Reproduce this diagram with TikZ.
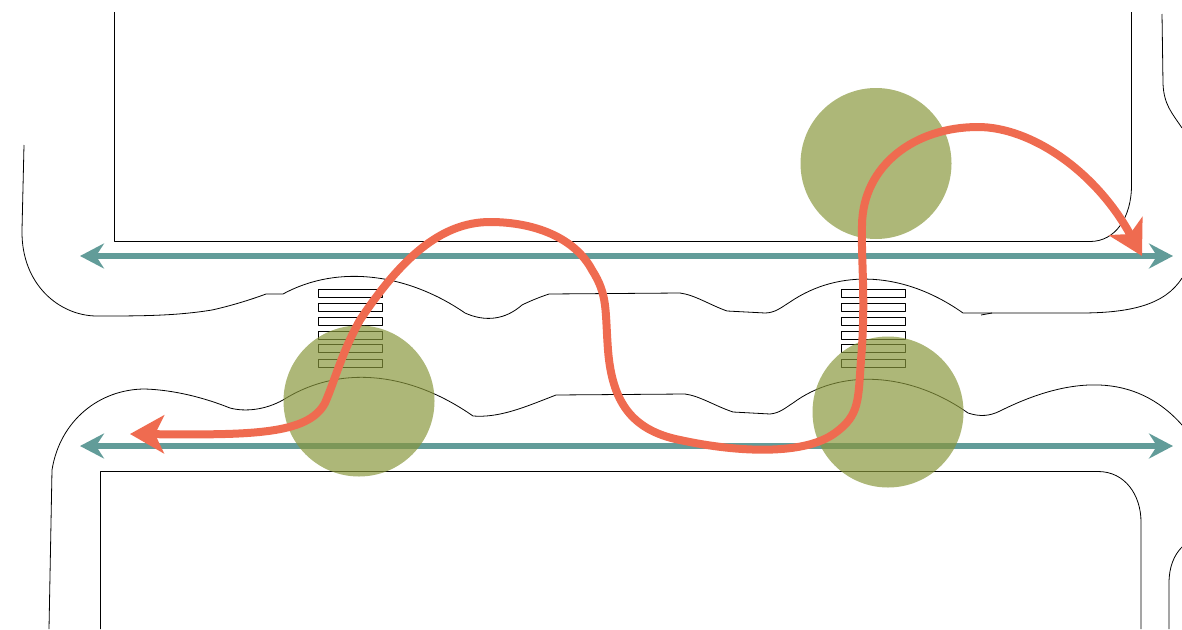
\documentclass[tikz,border=0pt]{standalone}
\usepackage{tikz}
\usetikzlibrary{arrows.meta, positioning}
\definecolor{flowteal}{HTML}{629C99}
\definecolor{routered}{HTML}{EF6B50}
\definecolor{zonegreen}{HTML}{88963B}

\begin{document}
\begin{tikzpicture}[x=1pt, y=-1pt, line join=round]
\tikzstyle{curb}=[draw=black, line width=0.8pt]
\tikzstyle{stripe}=[draw=black, line width=0.8pt, minimum width=64pt, minimum height=8pt, inner sep=0pt]
\tikzstyle{zone}=[circle, fill=zonegreen, fill opacity=0.69, minimum size=151pt, inner sep=0pt]
\tikzstyle{flow}=[draw=flowteal, line width=6pt, {Stealth[length=24pt,width=25pt,inset=8pt]}-{Stealth[length=24pt,width=25pt,inset=8pt]}]
\tikzstyle{route}=[draw=routered, line width=8pt, {Stealth[length=34pt,width=38pt,inset=9pt]}-{Stealth[length=34pt,width=38pt,inset=9pt]}]
\useasboundingbox (0,0) rectangle (1182,629);

% building blocks and curbs
\path[curb] (114.5,12) -- (114.5,241.5) -- (1090,241.5) .. controls (1115,241.5) and (1131.5,218) .. (1131.5,185) -- (1131.5,12);
\path[curb] (100.5,629) -- (100.5,471.5) -- (1098,471.5) .. controls (1125,471.5) and (1141,495) .. (1141,522) -- (1141,629);
\path[curb] (1162,14) -- (1163,84) .. controls (1164,105) and (1172,113) .. (1182,128);
\path[curb] (1169,629) -- (1169,583) .. controls (1169,567) and (1174,555) .. (1182,547);
\path[curb] (24,145) -- (22,230) .. controls (21,285) and (60,316) .. (97,316)
  .. controls (140,316) and (175,316) .. (212,310) .. controls (230,306) and (250,300) .. (266,294) -- (283,294)
  .. controls (340,263) and (410,275) .. (465,313) .. controls (485,322) and (505,320) .. (522,305)
  .. controls (530,301) and (540,297) .. (549,294) -- (680,293)
  .. controls (695,295) and (710,305) .. (727,311) -- (765,313)
  .. controls (775,313) and (782,307) .. (790,302) .. controls (840,268) and (905,272) .. (963,313)
  -- (1080,313) .. controls (1130,313) and (1165,305) .. (1182,278);
\path[curb] (981,315) -- (992,313);
\path[curb] (49,629) -- (52,470) .. controls (60,420) and (100,389) .. (145,389)
  .. controls (175,390) and (205,398) .. (230,408) .. controls (245,412) and (265,410) .. (283,400)
  .. controls (340,364) and (410,372) .. (473,416) .. controls (500,418) and (525,407) .. (556,395) -- (685,394)
  .. controls (700,396) and (715,406) .. (733,412) -- (770,414)
  .. controls (780,413) and (785,408) .. (793,403) .. controls (840,368) and (910,372) .. (968,413)
  .. controls (980,417) and (990,416) .. (1000,411) .. controls (1070,376) and (1135,372) .. (1182,425);

% crossings
\foreach \ypos [count=\i] in {293,307,321,335,348.5,363} {
  \node[stripe] (stripeA\i) at (350,\ypos) {};
  \node[stripe] (stripeB\i) at (873.5,\ypos) {};
}

% through traffic
\coordinate (northW) at (80,256);
\coordinate (northE) at (1173,256);
\coordinate (southW) at (80,446);
\coordinate (southE) at (1173,446);
\path[flow] (northW) -- (northE);
\path[flow] (southW) -- (southE);

% stops
\node[zone] (stopN) at (876,163.5) {};
\node[zone] (stopW) at (359,401) {};
\node[zone] (stopE) at (888,412) {};

% bus route
\coordinate (routeA) at (1142,256);
\coordinate (routeB) at (130,434);
\path[route] (routeA) .. controls (1095,170) and (1030,127) .. (978,127)
  .. controls (915,127) and (863,165) .. (862,225)
  .. controls (861,260) and (866,300) .. (861,360)
  .. controls (858,400) and (860,415) .. (835,433)
  .. controls (805,455) and (740,453) .. (680,440)
  .. controls (630,430) and (612,400) .. (608,350)
  .. controls (605,310) and (608,295) .. (592,270)
  .. controls (575,238) and (535,222) .. (490,222)
  .. controls (440,222) and (400,260) .. (360,320)
  .. controls (342,352) and (335,380) .. (325,403)
  .. controls (308,435) and (250,435) .. (routeB);
\end{tikzpicture}
\end{document}
